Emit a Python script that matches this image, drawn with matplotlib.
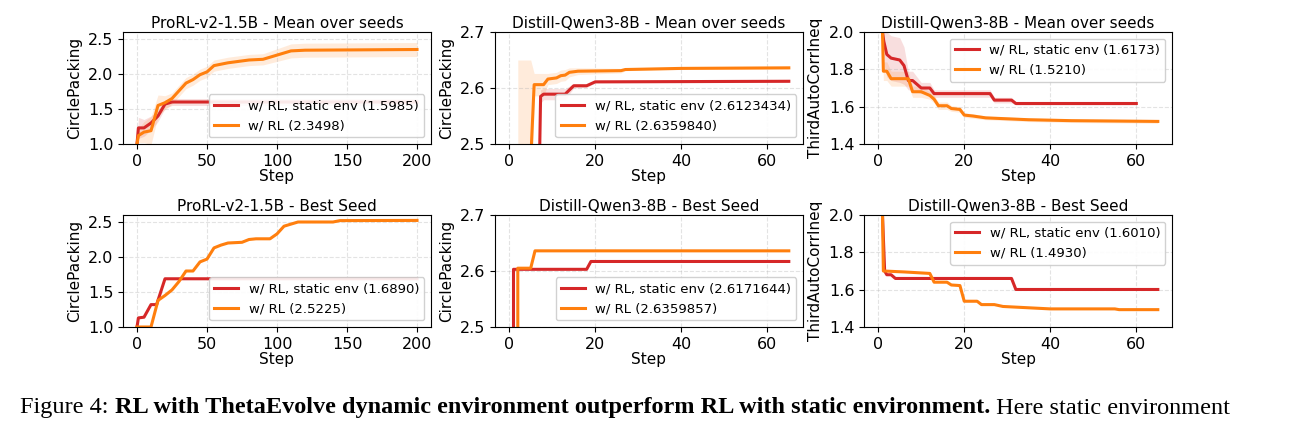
import matplotlib
matplotlib.use("Agg")
import matplotlib.pyplot as plt
import numpy as np

RED = "#d62728"
ORANGE = "#ff7f0e"

# ---- data (step, value, std) ----
p1_red_x = [0, 1, 5, 10, 15, 20, 25, 200]
p1_red_y = [1.0, 1.23, 1.23, 1.30, 1.40, 1.57, 1.60, 1.60]
p1_red_s = [0.0, 0.15, 0.12, 0.10, 0.08, 0.06, 0.05, 0.05]
p1_or_x = [0, 1, 5, 10, 15, 20, 25, 30, 35, 40, 45, 50, 55, 65, 80, 90, 100, 110, 120, 200]
p1_or_y = [1.0, 1.12, 1.17, 1.19, 1.55, 1.59, 1.65, 1.76, 1.87, 1.92, 1.99, 2.03, 2.12, 2.16, 2.20, 2.21, 2.27, 2.33, 2.34, 2.35]
p1_or_s = [0.0, 0.1, 0.15, 0.2, 0.15, 0.1, 0.08, 0.08, 0.08, 0.08, 0.08, 0.08, 0.08, 0.08, 0.08, 0.08, 0.09, 0.1, 0.1, 0.1]

p2_red_x = [7, 7.3, 8, 13, 15, 18, 20, 65]
p2_red_y = [2.45, 2.585, 2.589, 2.589, 2.604, 2.604, 2.611, 2.612]
p2_red_s = [0.03, 0.012, 0.01, 0.01, 0.004, 0.003, 0.002, 0.002]
p2_or_x = [2, 5, 5.8, 8, 9, 11, 12, 13, 14, 16, 26, 27, 40, 65]
p2_or_y = [2.45, 2.47, 2.606, 2.606, 2.616, 2.618, 2.622, 2.623, 2.628, 2.630, 2.631, 2.633, 2.635, 2.636]
p2_or_s = [0.2, 0.18, 0.02, 0.02, 0.01, 0.01, 0.01, 0.01, 0.008, 0.006, 0.004, 0.002, 0.002, 0.002]

p3_red_x = [1, 1.3, 2, 3, 5, 6, 7, 8, 9, 10, 12, 13, 26, 27, 31, 32, 60]
p3_red_y = [2.0, 1.95, 1.88, 1.86, 1.85, 1.82, 1.74, 1.74, 1.72, 1.70, 1.70, 1.67, 1.67, 1.635, 1.635, 1.617, 1.617]
p3_red_s = [0.0, 0.12, 0.12, 0.12, 0.12, 0.1, 0.05, 0.05, 0.04, 0.03, 0.03, 0.02, 0.02, 0.015, 0.015, 0.008, 0.008]
p3_or_x = [1, 1.2, 2, 3, 7, 8, 10, 12, 13, 14, 16, 17, 19, 20, 22, 25, 30, 35, 45, 65]
p3_or_y = [2.0, 1.79, 1.79, 1.75, 1.75, 1.68, 1.68, 1.66, 1.64, 1.605, 1.605, 1.59, 1.585, 1.555, 1.55, 1.54, 1.535, 1.53, 1.525, 1.521]
p3_or_s = [0.0, 0.05, 0.05, 0.04, 0.04, 0.03, 0.03, 0.02, 0.02, 0.02, 0.02, 0.015, 0.015, 0.012, 0.012, 0.01, 0.01, 0.01, 0.01, 0.01]

p4_red_x = [0, 1, 5, 10, 14, 20, 200]
p4_red_y = [1.0, 1.13, 1.14, 1.32, 1.32, 1.689, 1.689]
p4_or_x = [0, 10, 15, 20, 25, 30, 35, 40, 45, 50, 55, 60, 65, 75, 80, 85, 95, 100, 105, 115, 140, 145, 200]
p4_or_y = [1.0, 1.0, 1.38, 1.45, 1.53, 1.65, 1.80, 1.80, 1.93, 1.97, 2.13, 2.17, 2.20, 2.21, 2.25, 2.26, 2.26, 2.33, 2.44, 2.50, 2.50, 2.52, 2.5225]

p5_red_x = [1, 1, 18, 19, 65]
p5_red_y = [2.45, 2.603, 2.603, 2.617, 2.617]
p5_or_x = [2, 2, 5, 6, 65]
p5_or_y = [2.45, 2.605, 2.605, 2.636, 2.636]

p6_red_x = [1, 1.5, 2, 3, 4, 31, 32, 65]
p6_red_y = [2.0, 1.70, 1.68, 1.68, 1.66, 1.66, 1.601, 1.601]
p6_or_x = [1, 1.2, 6, 12, 13, 16, 17, 19, 20, 23, 24, 27, 29, 40, 55, 56, 65]
p6_or_y = [2.0, 1.70, 1.695, 1.687, 1.64, 1.64, 1.625, 1.622, 1.538, 1.538, 1.52, 1.52, 1.51, 1.497, 1.497, 1.493, 1.493]

fig = plt.figure(figsize=(12.93, 4.25), dpi=100)
W, H = 1293, 425
lefts = [123, 495, 864]
width = 308
tops = [32, 215]
height = 112


def make_ax(col, row):
    return fig.add_axes([lefts[col] / W, 1 - (tops[row] + height) / H, width / W, height / H])


panels = [
    (0, 0, "ProRL-v2-1.5B - Mean over seeds", "CirclePacking",
     (p1_red_x, p1_red_y, p1_red_s), (p1_or_x, p1_or_y, p1_or_s),
     "w/ RL, static env (1.5985)", "w/ RL (2.3498)", (-10, 210), (1.0, 2.6), [1.0, 1.5, 2.0, 2.5],
     [0, 50, 100, 150, 200], "lower right"),
    (1, 0, "Distill-Qwen3-8B - Mean over seeds", "CirclePacking",
     (p2_red_x, p2_red_y, p2_red_s), (p2_or_x, p2_or_y, p2_or_s),
     "w/ RL, static env (2.6123434)", "w/ RL (2.6359840)", (-3.3, 68.3), (2.5, 2.7), [2.5, 2.6, 2.7],
     [0, 20, 40, 60], "lower right"),
    (2, 0, "Distill-Qwen3-8B - Mean over seeds", "ThirdAutoCorrIneq",
     (p3_red_x, p3_red_y, p3_red_s), (p3_or_x, p3_or_y, p3_or_s),
     "w/ RL, static env (1.6173)", "w/ RL (1.5210)", (-3.3, 68.3), (1.4, 2.0), [1.4, 1.6, 1.8, 2.0],
     [0, 20, 40, 60], "upper right"),
    (0, 1, "ProRL-v2-1.5B - Best Seed", "CirclePacking",
     (p4_red_x, p4_red_y, None), (p4_or_x, p4_or_y, None),
     "w/ RL, static env (1.6890)", "w/ RL (2.5225)", (-10, 210), (1.0, 2.6), [1.0, 1.5, 2.0, 2.5],
     [0, 50, 100, 150, 200], "lower right"),
    (1, 1, "Distill-Qwen3-8B - Best Seed", "CirclePacking",
     (p5_red_x, p5_red_y, None), (p5_or_x, p5_or_y, None),
     "w/ RL, static env (2.6171644)", "w/ RL (2.6359857)", (-3.3, 68.3), (2.5, 2.7), [2.5, 2.6, 2.7],
     [0, 20, 40, 60], "lower right"),
    (2, 1, "Distill-Qwen3-8B - Best Seed", "ThirdAutoCorrIneq",
     (p6_red_x, p6_red_y, None), (p6_or_x, p6_or_y, None),
     "w/ RL, static env (1.6010)", "w/ RL (1.4930)", (-3.3, 68.3), (1.4, 2.0), [1.4, 1.6, 1.8, 2.0],
     [0, 20, 40, 60], "upper right"),
]

for col, row, title, ylab, red, orng, lr, lo, xl, yl, yt, xt, loc in panels:
    ax = make_ax(col, row)
    for (x, y, s), c, lab in [(red, RED, lr), (orng, ORANGE, lo)]:
        x = np.array(x, float)
        y = np.array(y, float)
        if s is not None:
            s = np.array(s, float)
            ax.fill_between(x, y - s, y + s, color=c, alpha=0.15, linewidth=0)
        ax.plot(x, y, color=c, lw=2.2, label=lab)
    ax.set_xlim(*xl)
    ax.set_ylim(*yl)
    ax.set_yticks(yt)
    ax.set_xticks(xt)
    ax.grid(True, ls="--", alpha=0.35)
    ax.tick_params(labelsize=11.5)
    ax.set_title(title, fontsize=11, pad=3)
    ax.set_ylabel(ylab, fontsize=11)
    ax.set_xlabel("Step", fontsize=11, labelpad=0)
    ax.legend(loc=loc, fontsize=9.5, framealpha=0.9, handlelength=1.8)

# caption, pieces chained left to right
renderer = fig.canvas.get_renderer()
x = 20
y = 1 - 408 / H
for txt, wt in [("Figure 4: ", "normal"),
                ("RL with ThetaEvolve dynamic environment outperform RL with static environment.", "bold"),
                (" Here static environment", "normal")]:
    t = fig.text(x / W, y, txt, fontsize=17.5, family="Liberation Serif", weight=wt, va="center")
    x += t.get_window_extent(renderer).width

fig.savefig("out.png", dpi=100)
